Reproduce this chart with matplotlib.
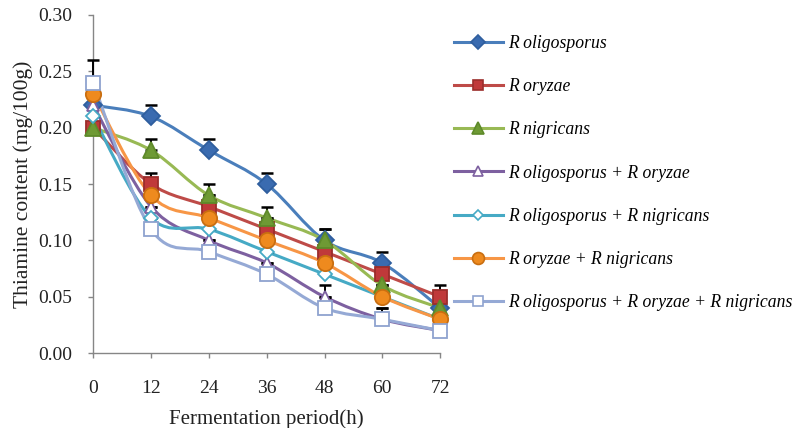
import numpy as np
import matplotlib
matplotlib.use("Agg")
import matplotlib.pyplot as plt
from matplotlib.path import Path
from matplotlib.patches import PathPatch
from matplotlib.lines import Line2D

plt.rcParams["font.family"] = ["Liberation Serif", "DejaVu Serif"]

hours = [0, 12, 24, 36, 48, 60, 72]

series_names = [
    "R oligosporus",
    "R oryzae",
    "R nigricans",
    "R oligosporus + R oryzae",
    "R oligosporus + R nigricans",
    "R oryzae + R nigricans",
    "R oligosporus + R oryzae + R nigricans",
]

oligosporus = [0.22, 0.21, 0.18, 0.15, 0.10, 0.08, 0.04]
oryzae = [0.20, 0.15, 0.13, 0.11, 0.09, 0.07, 0.05]
nigricans = [0.20, 0.18, 0.14, 0.12, 0.10, 0.06, 0.04]
olig_oryz = [0.22, 0.13, 0.10, 0.08, 0.05, 0.03, 0.02]
olig_nigr = [0.21, 0.12, 0.11, 0.09, 0.07, 0.05, 0.03]
oryz_nigr = [0.23, 0.14, 0.12, 0.10, 0.08, 0.05, 0.03]
all_three = [0.24, 0.11, 0.09, 0.07, 0.04, 0.03, 0.02]

err_oligosporus = [0.01, 0.01, 0.01, 0.01, 0.01, 0.01, 0.01]
err_oryzae = [0.01, 0.01, 0.01, 0.01, 0.01, 0.01, 0.01]
err_nigricans = [0.01, 0.01, 0.01, 0.01, 0.01, 0.01, 0.01]
err_olig_oryz = [0.01, 0.01, 0.01, 0.01, 0.01, 0.01, 0.01]
err_olig_nigr = [0.01, 0.01, 0.01, 0.01, 0.01, 0.01, 0.01]
err_oryz_nigr = [0.01, 0.01, 0.01, 0.01, 0.01, 0.01, 0.01]
err_all_three = [0.02, 0.01, 0.01, 0.01, 0.01, 0.01, 0.01]

values = [oligosporus, oryzae, nigricans, olig_oryz, olig_nigr, oryz_nigr, all_three]
errors = [err_oligosporus, err_oryzae, err_nigricans, err_olig_oryz,
          err_olig_nigr, err_oryz_nigr, err_all_three]

y_ticks = [0.00, 0.05, 0.10, 0.15, 0.20, 0.25, 0.30]

line_colors = ["#4A7EBB", "#BE4B48", "#98B954", "#7D60A0", "#46AAC5", "#F79646", "#95A9D5"]
face_colors = ["#3A6BB0", "#C0393A", "#6E9A34", "white", "white", "#EE8A1E", "white"]
edge_colors = ["#2F5E9E", "#9B2D2B", "#5E8A2A", "#7D60A0", "#46AAC5", "#C96E10", "#8FA3CF"]
markers = ["D", "s", "^", "^", "D", "o", "s"]
msizes = [9, 10, 11, 9, 7, 11, 10]


def smooth_path(xs, ys):
    """Catmull-Rom style Bezier through the points (like spreadsheet smoothed lines)."""
    pts = np.column_stack([xs, ys]).astype(float)
    verts = [pts[0]]
    codes = [Path.MOVETO]
    n = len(pts)
    for i in range(n - 1):
        p0 = pts[i - 1] if i > 0 else pts[i]
        p1 = pts[i]
        p2 = pts[i + 1]
        p3 = pts[i + 2] if i + 2 < n else pts[i + 1]
        c1 = p1 + (p2 - p0) / 6.0
        c2 = p2 - (p3 - p1) / 6.0
        verts += [c1, c2, p2]
        codes += [Path.CURVE4] * 3
    return Path(verts, codes)


fig = plt.figure(figsize=(7.96, 4.28), dpi=100)
ax = fig.add_axes([0.117, 0.175, 0.436, 0.79])

handles = []
for k in range(len(values)):
    ys = values[k]
    path = smooth_path(hours, ys)
    ax.add_patch(PathPatch(path, facecolor="none", edgecolor=line_colors[k],
                           lw=2.2, zorder=2 + k * 0.01, clip_on=False))
    ax.errorbar(hours, ys, yerr=[np.zeros(len(ys)), errors[k]], fmt="none",
                ecolor="black", elinewidth=1.4, capsize=4, capthick=1.8,
                zorder=3, clip_on=False)
    ax.plot(hours, ys, linestyle="none", marker=markers[k], ms=msizes[k],
            mfc=face_colors[k], mec=edge_colors[k], mew=1.3,
            zorder=4 + k * 0.01, clip_on=False)
    handles.append(Line2D([0], [0], color=line_colors[k], lw=2.2,
                          marker=markers[k], ms=msizes[k] * 0.78,
                          mfc=face_colors[k], mec=edge_colors[k], mew=1.2))

ax.set_xlim(0, 72)
ax.set_ylim(0, 0.30)
ax.set_xticks(hours)
ax.set_yticks(y_ticks)
ax.set_yticklabels([f"{v:.2f}" for v in y_ticks])

for side in ["top", "right"]:
    ax.spines[side].set_visible(False)
for side in ["left", "bottom"]:
    ax.spines[side].set_color("#868686")
    ax.spines[side].set_linewidth(1.0)
ax.tick_params(axis="both", colors="#868686", labelcolor="#222222",
               labelsize=14, length=3.5, width=1.0, direction="out")
ax.tick_params(axis="x", pad=16)
ax.tick_params(axis="y", pad=11.5)

ax.set_xlabel("Fermentation period(h)", fontsize=15, color="#222222", labelpad=9)
ax.set_ylabel("Thiamine content (mg/100g)", fontsize=15.5, color="#222222", labelpad=4)

fig.legend(handles, series_names, loc="upper left",
           bbox_to_anchor=(0.550, 0.956), frameon=False,
           prop={"family": "Liberation Serif", "style": "italic", "size": 12.7},
           labelspacing=1.49, handlelength=2.78, handletextpad=0.33)

fig.savefig("out.png", dpi=100)
